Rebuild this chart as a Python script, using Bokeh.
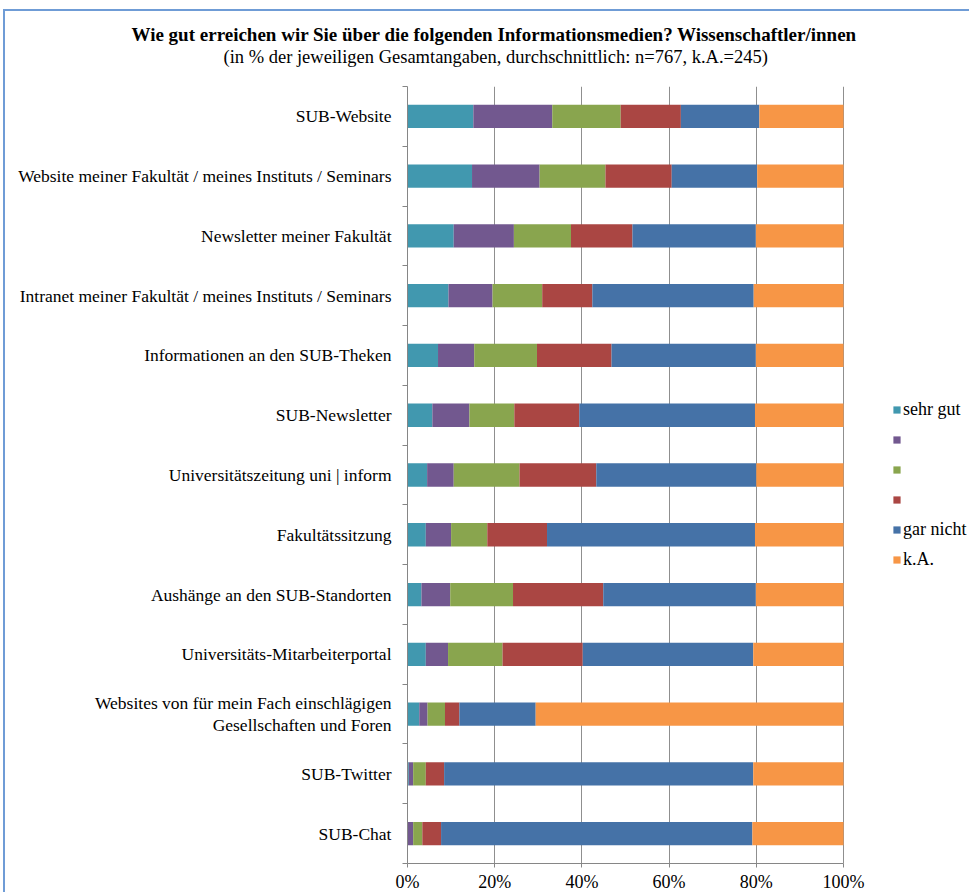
from bokeh.plotting import figure
from bokeh.models import (ColumnDataSource, FixedTicker, Range1d, Legend,
                          LegendItem, Title)
from bokeh.embed import file_html
from bokeh.resources import INLINE

# ---------------- data ----------------
categories = [
    "SUB-Website",
    "Website meiner Fakultät / meines Instituts / Seminars",
    "Newsletter meiner Fakultät",
    "Intranet meiner Fakultät / meines Instituts / Seminars",
    "Informationen an den SUB-Theken",
    "SUB-Newsletter",
    "Universitätszeitung uni | inform",
    "Fakultätssitzung",
    "Aushänge an den SUB-Standorten",
    "Universitäts-Mitarbeiterportal",
    "Websites von für mein Fach einschlägigen\nGesellschaften und Foren",
    "SUB-Twitter",
    "SUB-Chat",
]
series_names = ["sehr gut", "", "", "", "gar nicht", "k.A."]
sehr_gut = [15.1, 14.8, 10.6, 9.4, 7.0, 5.7, 4.5, 4.2, 3.2, 4.2, 2.7, 0.3, 0.0]
stufe_2 = [18.1, 15.5, 13.8, 10.1, 8.3, 8.5, 6.1, 5.8, 6.6, 5.1, 1.9, 1.0, 1.3]
stufe_3 = [15.7, 15.1, 13.1, 11.4, 14.4, 10.3, 15.1, 8.3, 14.4, 12.5, 4.0, 2.9, 2.1]
stufe_4 = [13.8, 15.2, 14.1, 11.5, 17.1, 14.9, 17.6, 13.7, 20.7, 18.4, 3.3, 4.2, 4.3]
gar_nicht = [18.0, 19.6, 28.3, 37.0, 33.1, 40.3, 36.7, 47.7, 35.0, 39.1, 17.5, 70.9, 71.4]
keine_angabe = [19.3, 19.8, 20.1, 20.6, 20.1, 20.3, 20.0, 20.3, 20.1, 20.7, 70.6, 20.7, 20.9]
x_ticks = [0, 20, 40, 60, 80, 100]
x_tick_labels = ["0%", "20%", "40%", "60%", "80%", "100%"]

title_text = "Wie gut erreichen wir Sie über die folgenden Informationsmedien? Wissenschaftler/innen"
subtitle_text = "(in % der jeweiligen Gesamtangaben, durchschnittlich: n=767, k.A.=245)"

# ---------------- style / layout ----------------
colors = ["#4198AF", "#72588F", "#89A54E", "#AA4643", "#4572A7", "#F79646"]
FONT = "Liberation Serif"
AXIS_GREY = "#868686"

FIG_W, FIG_H = 966, 883
BORDER_L, BORDER_T, BORDER_B = 402, 75, 31
PLOT_W = 436                      # pixel width of the 0..100 % scale
frame_w = FIG_W - BORDER_L        # frame runs to the right edge (legend lives there)
x_max = 100.0 * frame_w / PLOT_W

n = len(categories)
ypos = [n - 0.5 - i for i in range(n)]
keys = ["s1", "s2", "s3", "s4", "s5", "s6"]
source = ColumnDataSource(dict(
    y=ypos, cat=categories,
    s1=sehr_gut, s2=stufe_2, s3=stufe_3, s4=stufe_4, s5=gar_nicht, s6=keine_angabe,
))

p = figure(width=FIG_W, height=FIG_H, output_backend="svg", toolbar_location=None,
           x_range=Range1d(0, x_max), y_range=Range1d(0, n),
           min_border_left=BORDER_L, min_border_right=0,
           min_border_top=BORDER_T, min_border_bottom=BORDER_B)
p.outline_line_color = None
p.background_fill_color = "white"
p.border_fill_color = "white"

renderers = p.hbar_stack(keys, y="y", height=0.39, color=colors,
                         source=source, line_color=None)

# grid
p.ygrid.visible = False
p.xgrid.ticker = FixedTicker(ticks=x_ticks)
p.xgrid.grid_line_color = "#8f8f8f"
p.xgrid.grid_line_width = 1

# x axis (line limited to 0..100 %)
xa = p.xaxis[0]
xa.ticker = FixedTicker(ticks=x_ticks)
xa.bounds = (0, 100)
xa.major_label_overrides = {t: lab for t, lab in zip(x_ticks, x_tick_labels)}
xa.minor_tick_line_color = None
xa.major_tick_out = 4
xa.major_tick_in = 0
xa.axis_line_color = AXIS_GREY
xa.major_tick_line_color = AXIS_GREY
xa.major_label_text_font = FONT
xa.major_label_text_font_size = "18px"
xa.major_label_text_color = "black"
xa.major_label_standoff = 4

# y axis: labels at bar centres, tick marks between categories
ya = p.yaxis[0]
ya.ticker = FixedTicker(ticks=ypos, minor_ticks=list(range(n + 1)))
ya.major_label_overrides = {y: c for y, c in zip(ypos, categories)}
ya.major_tick_line_color = None
ya.major_tick_out = 0
ya.major_tick_in = 0
ya.minor_tick_out = 5
ya.minor_tick_in = 0
ya.minor_tick_line_color = AXIS_GREY
ya.axis_line_color = AXIS_GREY
ya.major_label_text_font = FONT
ya.major_label_text_font_size = "17.5px"
ya.major_label_text_line_height = 1.1
ya.major_label_text_color = "black"
ya.major_label_standoff = 11

# titles: main title outermost, then subtitle, then a blank spacer next to the plot
p.title.text = title_text
p.title.align = "left"
p.title.offset = -276
p.title.text_font = FONT
p.title.text_font_style = "bold"
p.title.text_font_size = "19px"
p.title.text_color = "black"
p.title.standoff = 0
p.add_layout(Title(text=" ", text_font_size="10px", standoff=7), "above")
p.add_layout(Title(text=subtitle_text, align="left", offset=-184, text_font=FONT,
                   text_font_style="normal", text_font_size="18.5px",
                   text_color="black", standoff=0), "above")

# legend (inside the extended frame, right of the bars)
items = [LegendItem(label=(name if name else " "), renderers=[r])
         for name, r in zip(series_names, renderers)]
legend = Legend(items=items, location=(485, 293), orientation="vertical",
                glyph_width=9, glyph_height=9, label_standoff=2,
                label_height=21, spacing=9, padding=0, margin=0,
                border_line_color=None, background_fill_alpha=0,
                label_text_font=FONT, label_text_font_size="18px",
                label_text_color="black")
p.add_layout(legend, "center")

p.styles = {"border-left": "2px solid #6F9CD6", "border-top": "2px solid #6F9CD6",
            "margin-left": "3px", "margin-top": "9px"}

open("out.html", "w").write(file_html(p, INLINE))
